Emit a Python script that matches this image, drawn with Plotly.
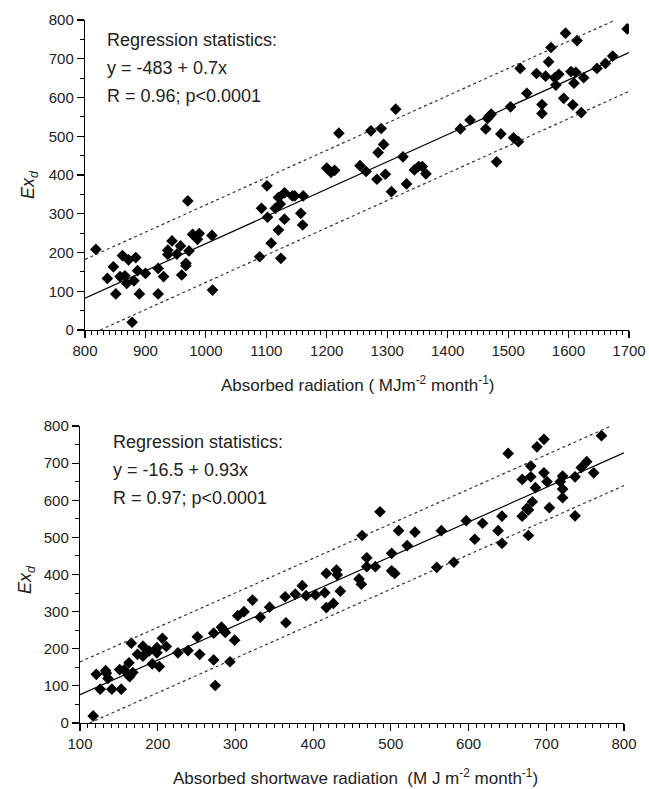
import plotly.graph_objects as go

# panel (a): absorbed radiation vs Ex_d
top_x = [818, 847, 837, 862, 872, 884, 858, 866, 869, 851, 887, 881, 900, 890, 878,
         921, 930, 921, 937, 937, 944, 958, 952, 967, 967, 960, 972, 970, 978, 989,
         986, 1010, 1011, 1092, 1101, 1102, 1089, 1108, 1124, 1120, 1120, 1115, 1123,
         1130, 1130, 1143, 1147, 1161, 1157, 1160, 1200, 1207, 1213,
         1220, 1255, 1265, 1273, 1290, 1294, 1285, 1283, 1297, 1314, 1326, 1332, 1307,
         1345, 1352, 1358, 1364, 1421, 1437, 1463, 1466, 1472, 1469, 1488, 1481, 1504,
         1509, 1517, 1520, 1531, 1547, 1556, 1556, 1562, 1567, 1571, 1577, 1584, 1579,
         1592, 1595, 1604, 1612, 1609, 1607, 1614, 1621, 1625, 1647, 1661, 1673, 1697]
top_y = [208, 163, 133, 192, 181, 187, 138, 140, 120, 93, 153, 127, 146, 93, 20,
         159, 138, 93, 206, 195, 230, 217, 196, 172, 166, 142, 204, 333, 247, 249,
         234, 244, 103, 314, 372, 291, 189, 224, 185, 258, 342, 314, 325,
         354, 286, 346, 346, 346, 301, 271, 418, 407, 412,
         508, 424, 409, 514, 520, 479, 458, 389, 402, 570, 447, 377, 357,
         413, 422, 422, 403, 519, 542, 519, 546, 557, 552, 506, 434, 576,
         496, 486, 675, 611, 662, 582, 559, 655, 692, 729, 651, 660, 632,
         598, 766, 667, 665, 637, 581, 747, 561, 651, 675, 688, 707, 777]

# panel (b): absorbed shortwave radiation vs Ex_d
bot_x = [117, 121, 126, 133, 134, 136, 141, 151, 153, 157, 163, 162, 164, 168, 166,
         174, 181, 181, 189, 193, 199, 199, 202, 206, 211, 226, 239, 251, 254, 272,
         272, 274, 282, 285, 287, 293, 299, 303, 311, 322, 332, 344, 364, 365, 377,
         386, 391, 403, 415, 417, 417,
         426, 430, 431, 435, 459, 462, 469, 469, 480, 463, 486, 501, 501, 505, 510,
         521, 531, 559, 565, 581, 597, 608, 618, 638, 643, 643, 651, 669, 669, 675,
         677, 677, 680, 680, 682, 686, 688, 697, 697, 704, 701, 718, 721, 721, 721,
         737, 737, 745, 752, 761, 771]
bot_y = [19, 131, 91, 141, 134, 120, 91, 144, 91, 143, 162, 129, 125, 136, 215,
         185, 207, 180, 194, 159, 203, 189, 152, 228, 206, 189, 195, 232, 185, 242,
         170, 101, 258, 250, 244, 165, 223, 289, 300, 331, 285, 312, 340, 270, 347,
         370, 343, 345, 351, 403, 311,
         322, 412, 399, 355, 388, 374, 445, 421, 421, 505, 569, 457, 410, 403, 518,
         478, 514, 419, 518, 433, 545, 495, 538, 518, 557, 484, 726, 557, 656, 578,
         574, 505, 692, 663, 596, 634, 744, 674, 764, 580, 650, 650, 665, 630, 607,
         663, 558, 688, 704, 674, 774]

# fitted line (intercept, slope) and half-width of the dotted band
top_fit = (-481, 0.704)
top_band = 100
bot_fit = (-16.5, 0.93)
bot_band = 88

top_range = (800, 1700)
bot_range = (100, 800)
y_range = (0, 800)

top_stats = ['Regression statistics:', 'y = -483 + 0.7x', 'R = 0.96; p<0.0001']
bot_stats = ['Regression statistics:', 'y = -16.5 + 0.93x', 'R = 0.97; p<0.0001']

W, H = 649, 789
FONT = 'Liberation Sans, Arial, sans-serif'


def line_pts(fit, offset, xr):
    """End points of y = a + b*x + offset, clipped to the 0-800 window."""
    a, b = fit
    a = a + offset
    x0, x1 = xr
    if a + b * x0 < y_range[0]:
        x0 = (y_range[0] - a) / b
    if a + b * x1 > y_range[1]:
        x1 = (y_range[1] - a) / b
    return [x0, x1], [a + b * x0, a + b * x1]


def add_panel(fig, xs, ys, fit, band, xr, xa, ya):
    fig.add_trace(go.Scatter(x=xs, y=ys, mode='markers', xaxis=xa, yaxis=ya,
                             marker=dict(symbol='diamond', size=9, color='black',
                                         line=dict(width=0))))
    lx, ly = line_pts(fit, 0, xr)
    fig.add_trace(go.Scatter(x=lx, y=ly, mode='lines', xaxis=xa, yaxis=ya,
                             line=dict(color='black', width=1.2)))
    for off in (band, -band):
        bx, by = line_pts(fit, off, xr)
        fig.add_trace(go.Scatter(x=bx, y=by, mode='lines', xaxis=xa, yaxis=ya,
                                 line=dict(color='#333', width=1.2, dash='dot')))


fig = go.Figure()
add_panel(fig, top_x, top_y, top_fit, top_band, top_range, 'x', 'y')
add_panel(fig, bot_x, bot_y, bot_fit, bot_band, bot_range, 'x2', 'y2')


def xaxis(dom, rng, anchor):
    return dict(domain=dom, range=list(rng), anchor=anchor, dtick=100,
                automargin=False,
                showline=True, linecolor='black', linewidth=1.2, mirror=False,
                ticks='outside', ticklen=7, tickwidth=1.2, tickcolor='black',
                minor=dict(dtick=10, ticks='outside', ticklen=4, tickwidth=1,
                           tickcolor='black'),
                showgrid=False, zeroline=False,
                tickfont=dict(size=15, color='#222'))


def yaxis(dom, anchor):
    return dict(domain=dom, range=list(y_range), anchor=anchor, dtick=100,
                automargin=False,
                showline=True, linecolor='black', linewidth=1.2,
                ticks='outside', ticklen=7, tickwidth=1.2, tickcolor='black',
                minor=dict(dtick=50, ticks='outside', ticklen=4, tickwidth=1,
                           tickcolor='black'),
                showgrid=False, zeroline=False,
                tickfont=dict(size=15, color='#222'))


fig.update_layout(
    width=W, height=H, margin=dict(l=0, r=0, t=0, b=0, autoexpand=False),
    paper_bgcolor='white', plot_bgcolor='white', showlegend=False,
    font=dict(family=FONT, color='#222'),
    xaxis=xaxis([85 / W, 629 / W], top_range, 'y'),
    yaxis=yaxis([1 - 330 / H, 1 - 20 / H], 'x'),
    xaxis2=xaxis([80 / W, 624 / W], bot_range, 'y2'),
    yaxis2=yaxis([1 - 723 / H, 1 - 426 / H], 'x2'),
)


def note(text, px, py, size=18, anchor='left', angle=0):
    fig.add_annotation(text=text, x=px / W, y=1 - py / H, xref='paper', yref='paper',
                       xanchor=anchor, yanchor='middle', showarrow=False,
                       textangle=angle, font=dict(size=size, color='#222'))


for i, t in enumerate(top_stats):
    note(t, 105, 40 + 28 * i)
for i, t in enumerate(bot_stats):
    note(t, 111, 442 + 28 * i)

note('Absorbed radiation ( MJm<sup>-2</sup> month<sup>-1</sup>)', 357, 384, 17, 'center')
note('Absorbed shortwave radiation  (M J m<sup>-2</sup> month<sup>-1</sup>)', 355, 777, 17, 'center')
note('<i>Ex<sub>d</sub></i>', 30, 185, 18, 'center', -90)
note('<i>Ex<sub>d</sub></i>', 26, 580, 18, 'center', -90)

# page body has an 8px default margin; drop it so the 649x789 figure fits the window
fig.write_html('out.html',
               config={'displayModeBar': False, 'staticPlot': True},
               post_script="document.body.style.margin='0';"
                           "document.body.style.overflow='hidden';")
